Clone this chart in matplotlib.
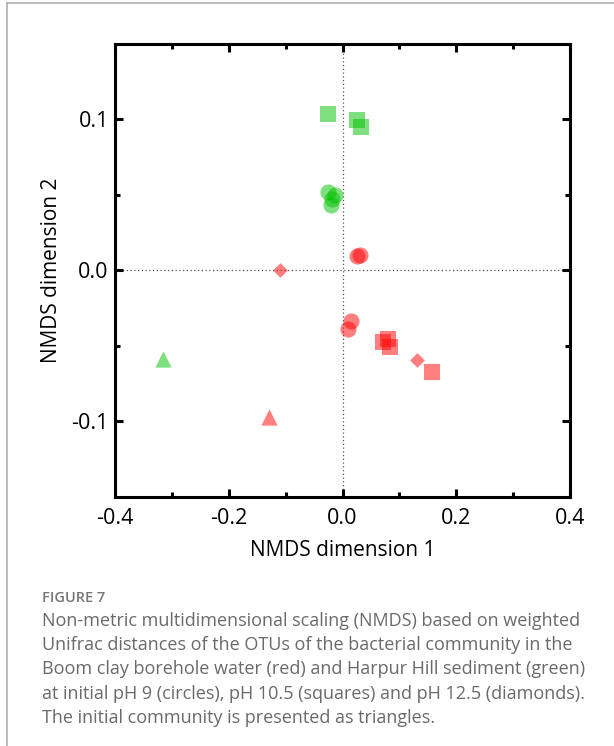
import matplotlib
matplotlib.use("Agg")
import matplotlib.pyplot as plt
from matplotlib.lines import Line2D

# NMDS 坐标
# 红色: Boom clay borehole water, 绿色: Harpur Hill sediment
red_circle_x = [0.025, 0.030, 0.015, 0.010]
red_circle_y = [0.0095, 0.0099, -0.0336, -0.0389]
red_square_x = [0.072, 0.080, 0.084, 0.158]
red_square_y = [-0.048, -0.046, -0.051, -0.0673]
red_diamond_x = [-0.110, 0.131]
red_diamond_y = [0.000, -0.0596]
red_triangle_x = [-0.130]
red_triangle_y = [-0.0975]

green_circle_x = [-0.025, -0.0135, -0.021, -0.019]
green_circle_y = [0.0515, 0.050, 0.043, 0.047]
green_square_x = [-0.025, 0.025, 0.032]
green_square_y = [0.103, 0.0993, 0.0947]
green_triangle_x = [-0.315]
green_triangle_y = [-0.059]

x_ticks = [-0.4, -0.2, 0.0, 0.2, 0.4]
y_ticks = [-0.1, 0.0, 0.1]
x_tick_labels = ["-0.4", "-0.2", "0.0", "0.2", "0.4"]
y_tick_labels = ["-0.1", "0.0", "0.1"]

caption_title = "FIGURE 7"
caption_lines = [
    "Non-metric multidimensional scaling (NMDS) based on weighted",
    "Unifrac distances of the OTUs of the bacterial community in the",
    "Boom clay borehole water (red) and Harpur Hill sediment (green)",
    "at initial pH 9 (circles), pH 10.5 (squares) and pH 12.5 (diamonds).",
    "The initial community is presented as triangles.",
]

RED = "#ff0000"
GREEN = "#00c000"
W, H = 614, 746

fig = plt.figure(figsize=(W / 100, H / 100), dpi=100)
fig.patch.set_facecolor("white")

# 外框（上边和左边的灰线）
fig.add_artist(Line2D([7 / W, 1], [1 - 3 / H, 1 - 3 / H], color="#b0b0b0", lw=1.2))
fig.add_artist(Line2D([7 / W, 7 / W], [0, 1 - 3 / H], color="#b0b0b0", lw=1.2))

ax = fig.add_axes([115 / W, 1 - 496.5 / H, 455 / W, 453 / H])

ax.axhline(0, color="#555555", lw=0.9, ls=(0, (1, 2)), zorder=0)
ax.axvline(0, color="#555555", lw=0.9, ls=(0, (1, 2)), zorder=0)

kw = dict(alpha=0.5, linewidths=0, zorder=3)
ax.scatter(red_circle_x, red_circle_y, s=135, marker="o", color=RED, **kw)
ax.scatter(red_square_x, red_square_y, s=135, marker="s", color=RED, **kw)
ax.scatter(red_diamond_x, red_diamond_y, s=56, marker="D", color=RED, **kw)
ax.scatter(red_triangle_x, red_triangle_y, s=137, marker="^", color=RED, **kw)
ax.scatter(green_circle_x, green_circle_y, s=135, marker="o", color=GREEN, **kw)
ax.scatter(green_square_x, green_square_y, s=135, marker="s", color=GREEN, **kw)
ax.scatter(green_triangle_x, green_triangle_y, s=137, marker="^", color=GREEN, **kw)

ax.set_xlim(-0.4, 0.4)
ax.set_ylim(-0.15, 0.15)
ax.set_xticks(x_ticks)
ax.set_xticklabels(x_tick_labels)
ax.set_yticks(y_ticks)
ax.set_yticklabels(y_tick_labels)
ax.set_xticks([-0.3, -0.1, 0.1, 0.3], minor=True)
ax.set_yticks([-0.05, 0.05], minor=True)

for sp in ax.spines.values():
    sp.set_linewidth(2.2)
ax.tick_params(which="both", direction="in", top=True, right=True, width=2.2,
               labelsize=15.5, colors="black")
ax.tick_params(axis="x", pad=8)
ax.tick_params(axis="y", pad=4.5)
ax.tick_params(which="major", length=6)
ax.tick_params(which="minor", length=3.5)
for lab in ax.get_xticklabels() + ax.get_yticklabels():
    lab.set_family("Open Sans")

ax.set_xlabel("NMDS dimension 1", fontsize=15, family="Open Sans", va="center")
ax.set_ylabel("NMDS dimension 2", fontsize=15, family="Open Sans", va="center")
ax.xaxis.set_label_coords(0.5, -(551 - 496.5) / 453)
ax.yaxis.set_label_coords((52 - 115) / 455, 0.5)

# 图注
fig.text(42 / W, 1 - 598 / H, caption_title, fontsize=10.5, color="#777777",
         family="Open Sans", weight="semibold", va="center")
for i, line in enumerate(caption_lines):
    fig.text(42 / W, 1 - (621 + 24.2 * i) / H, line, fontsize=13, color="#6a6a6a",
             family="Open Sans", va="center")

fig.savefig("out.png", dpi=100)
